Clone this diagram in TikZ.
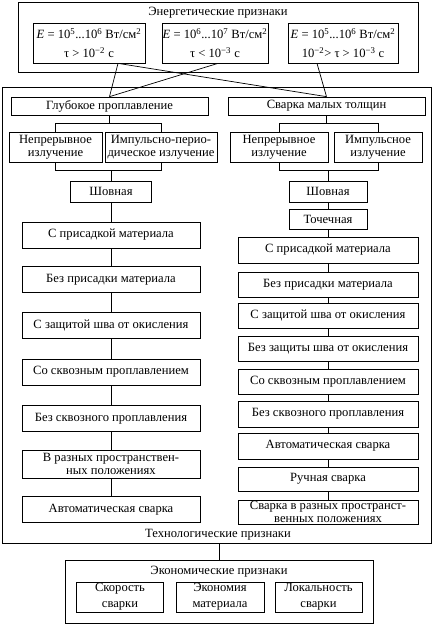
\documentclass[tikz,border=0pt]{standalone}
\usepackage{fontspec}
\setmainfont{Liberation Serif}
\usepackage{tikz}

\begin{document}
\begin{tikzpicture}[x=1pt,y=-1pt,line width=0.7pt,font=\fontsize{12.6}{13.5}\selectfont]
	\tikzstyle{frame}=[draw,inner sep=0pt];
	\tikzstyle{box}=[draw,align=center,inner sep=0pt];
	\tikzstyle{lcol}=[box,minimum width=178pt,minimum height=26pt];
	\tikzstyle{rcol}=[box,minimum width=180pt,minimum height=25pt];
	\tikzstyle{enbox}=[box,minimum height=40pt,font=\fontsize{12.6}{19}\selectfont];
	\tikzstyle{ecbox}=[box,minimum width=87pt,minimum height=30pt,font=\fontsize{12.6}{16}\selectfont];
	\useasboundingbox (0,0) rectangle (436,625);
	%% Frames
	\node[frame,minimum width=400pt,minimum height=70pt] (energy) at (218,37) {};
	\node[frame,minimum width=429pt,minimum height=456pt] (tech) at (216.5,315) {};
	\node[frame,minimum width=308pt,minimum height=63pt] (econ) at (219,591.5) {};
	\node (energylbl) at (218,13) {Энергетические признаки};
	\node (techlbl) at (218,535) {Технологические признаки};
	\node (econlbl) at (219,572) {Экономические признаки};
	%% Energetic
	\node[enbox,minimum width=112pt] (en1) at (89,43)
		{\textit{E} = 10\textsuperscript{5}...10\textsuperscript{6} Вт/см\textsuperscript{2}\\ τ > 10\textsuperscript{−2} с};
	\node[enbox,minimum width=106pt] (en2) at (215,43)
		{\textit{E} = 10\textsuperscript{6}...10\textsuperscript{7} Вт/см\textsuperscript{2}\\ τ < 10\textsuperscript{−3} с};
	\node[enbox,minimum width=110pt] (en3) at (343,43)
		{\textit{E} = 10\textsuperscript{5}...10\textsuperscript{6} Вт/см\textsuperscript{2}\\ 10\textsuperscript{−2}> τ > 10\textsuperscript{−3} с};
	%% Technological: heads
	\node[box,minimum width=197pt,minimum height=18pt] (deep) at (109.5,106) {Глубокое проплавление};
	\node[box,minimum width=197pt,minimum height=18pt] (thin) at (326.5,106) {Сварка малых толщин};
	\node[box,minimum width=93pt,minimum height=30pt] (deepcont) at (55.5,147) {Непрерывное\\излучение};
	\node[box,minimum width=112pt,minimum height=30pt] (deeppulse) at (161,147) {Импульсно-перио-\\дическое излучение};
	\node[box,minimum width=98pt,minimum height=30pt] (thincont) at (279,147) {Непрерывное\\излучение};
	\node[box,minimum width=88pt,minimum height=30pt] (thinpulse) at (378,147) {Импульсное\\излучение};
	\node[box,minimum width=81pt,minimum height=21pt] (lseam) at (111,191.5) {Шовная};
	\node[box,minimum width=78pt,minimum height=21pt] (rseam) at (328,191.5) {Шовная};
	\node[box,minimum width=78pt,minimum height=20pt] (rspot) at (328,219) {Точечная};
	%% Technological: left column
	\node[lcol] (l1) at (111,235) {С присадкой материала};
	\node[lcol] (l2) at (111,279.5) {Без присадки материала};
	\node[lcol] (l3) at (111,325.5) {С защитой шва от окисления};
	\node[lcol] (l4) at (111,372) {Со сквозным проплавлением};
	\node[lcol] (l5) at (111,418.5) {Без сквозного проплавления};
	\node[lcol,minimum height=28pt] (l6) at (111,464) {В разных пространствен-\\ных положениях};
	\node[lcol] (l7) at (111,509.5) {Автоматическая сварка};
	%% Technological: right column
	\node[rcol,minimum height=26pt] (r1) at (328,250) {С присадкой материала};
	\node[rcol] (r2) at (328,284.5) {Без присадки материала};
	\node[rcol] (r3) at (328,315.5) {С защитой шва от окисления};
	\node[rcol] (r4) at (328,348.5) {Без защиты шва от окисления};
	\node[rcol] (r5) at (328,381.5) {Со сквозным проплавлением};
	\node[rcol,minimum height=26pt] (r6) at (328,414) {Без сквозного проплавления};
	\node[rcol,minimum height=26pt] (r7) at (328,446) {Автоматическая сварка};
	\node[rcol,minimum height=24pt] (r8) at (328,479) {Ручная сварка};
	\node[rcol,minimum height=24pt,font=\fontsize{12.6}{12.5}\selectfont] (r9) at (328,512) {Сварка в разных пространст-\\венных положениях};
	%% Economic
	\node[ecbox] (speed) at (120,597) {Скорость\\сварки};
	\node[ecbox,minimum width=88pt] (saving) at (220,597) {Экономия\\материала};
	\node[ecbox] (local) at (318.5,597) {Локальность\\сварки};
	%% Connectors
	\draw ([xshift=29pt]en1.south) -- (deep.north);
	\draw ([xshift=29pt]en1.south) -- (thin.north);
	\draw ([xshift=3pt]en2.south) -- (deep.north);
	\draw ([xshift=-26pt]en3.south) -- (thin.north);
	\draw (deep.south) -- ++(0,8);
	\draw (deepcont.north) |- ([yshift=-8pt]deep.south) -| (deeppulse.north);
	\draw (thin.south) -- ++(0,8);
	\draw (thincont.north) |- ([yshift=-8pt]thin.south) -| (thinpulse.north);
	\draw (deepcont.south) |- ([yshift=10pt]lseam.north) -| (deeppulse.south);
	\draw (lseam.north) -- ++(0,-10);
	\draw (thincont.south) |- ([yshift=10pt]rseam.north) -| (thinpulse.south);
	\draw (rseam.north) -- ++(0,-10);
	\foreach \a/\b in {lseam/l1,l1/l2,l2/l3,l3/l4,l4/l5,l5/l6,l6/l7}
		\draw (\a) -- (\b);
	\foreach \a/\b in {rseam/rspot,rspot/r1,r1/r2,r2/r3,r3/r4,r4/r5,r5/r6,r6/r7,r7/r8,r8/r9}
		\draw (\a) -- (\b);
	\draw (econ.north) -- (econ.north |- tech.south);
\end{tikzpicture}
\end{document}
